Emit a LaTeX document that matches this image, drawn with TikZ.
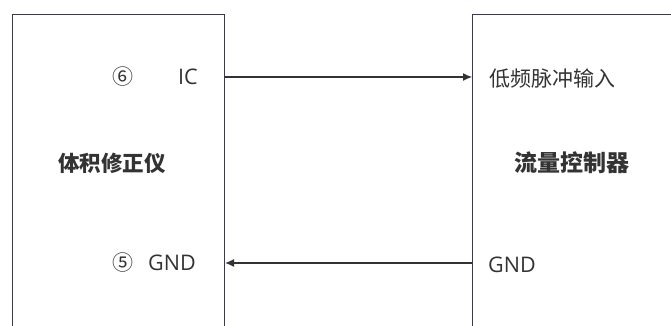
\documentclass[tikz,border=0pt]{standalone}
\usepackage{fontspec}
\setmainfont{Noto Sans CJK SC}
\newfontfamily\latinfont{Open Sans}
\usetikzlibrary{arrows.meta}
\definecolor{boxline}{HTML}{3A3A48}
\definecolor{txt}{HTML}{333333}
\tikzset{
  blk/.style={draw=boxline, line width=1.1pt, fill=none, inner sep=0pt},
  lbl/.style={text=txt, inner sep=0pt, font=\fontsize{21}{25}\selectfont},
  lat/.style={text=txt, inner sep=0pt, font=\latinfont\fontsize{21.5}{25}\selectfont},
  ttl/.style={text=txt, inner sep=0pt, font=\fontsize{21.5}{25}\selectfont\bfseries},
  sig/.style={draw=txt, line width=1.1pt, -{Latex[length=9pt,width=8pt]}},
}
\begin{document}
\begin{tikzpicture}[x=1pt,y=-1pt]
\useasboundingbox (0,0) rectangle (671,325);
\clip (0,0) rectangle (671,325);
\fill[white] (0,0) rectangle (671,325);
\node[blk, minimum width=212pt, minimum height=340pt, anchor=north west] (lbox) at (12,14) {};
\node[blk, minimum width=220pt, minimum height=340pt, anchor=north west] (rbox) at (472,14) {};
\node[lbl] (c6) at (123,77) {⑥};
\node[lat] (ic) at (188,77) {IC};
\node[ttl] (lname) at (112,163) {体积修正仪};
\node[lbl] (c5) at (123,263) {⑤};
\node[lat] (gndl) at (172,263) {GND};
\node[lbl, anchor=west] (lfin) at (489,79) {低频脉冲输入};
\node[ttl, font=\fontsize{23}{27}\selectfont\bfseries] (rname) at (572,163) {流量控制器};
\node[lat, anchor=west] (gndr) at (488,265) {GND};
\draw[sig] (lbox.east |- ic) -- (rbox.west |- ic);
\draw[sig] (rbox.west |- gndl) -- (lbox.east |- gndl);
\end{tikzpicture}
\end{document}
